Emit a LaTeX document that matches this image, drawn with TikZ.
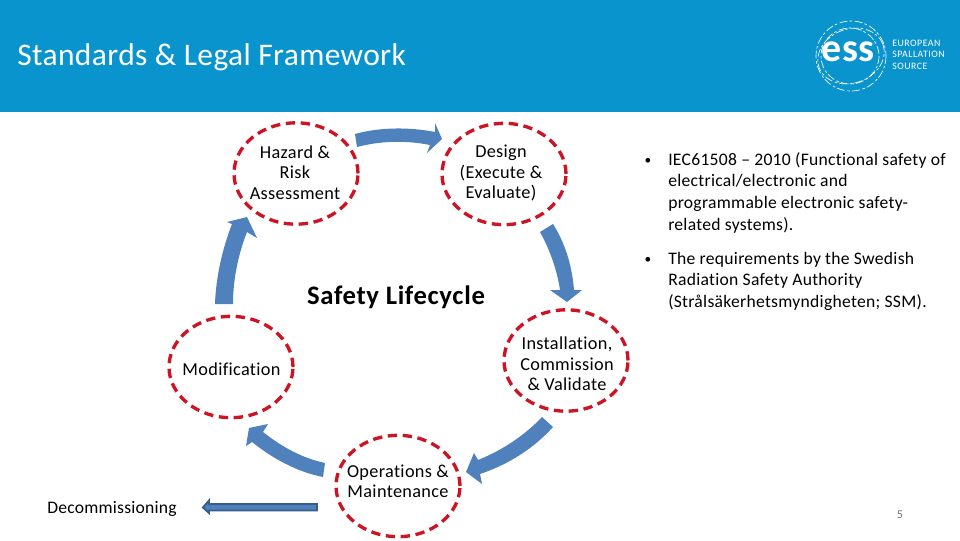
\documentclass[tikz,border=0pt]{standalone}
\usepackage{fontspec}
\setmainfont[Ligatures=NoCommon]{Carlito}
\definecolor{band}{HTML}{0A94CE}
\definecolor{bluefill}{HTML}{4F81BD}
\definecolor{blueline}{HTML}{385D8A}
\definecolor{dashred}{HTML}{CC1424}
\newcommand{\stagefont}{\fontsize{13.7}{15.4}\selectfont\addfontfeature{LetterSpace=1.8}}
\newcommand{\sidefont}{\fontsize{13.2}{15}\selectfont\addfontfeature{LetterSpace=1.6}}
\tikzset{
  x=0.75pt,y=-0.75pt,
  stage/.style={draw=dashred,line width=2.5pt,dash pattern=on 7pt off 4.2pt,ellipse,inner sep=0pt,minimum width=93pt,minimum height=76pt},
  stagetxt/.style={inner sep=0pt,align=center,font=\stagefont},
  sidetxt/.style={anchor=base west,inner sep=0pt,font=\sidefont},
  blockarrow/.style={fill=bluefill,draw=none},
  logoring/.style={draw=white,line width=0.5pt,dash pattern=on 6pt off 1.5pt on 2pt off 2pt},
  logotxt/.style={anchor=west,inner sep=0pt,text=white,font=\fontsize{7.4}{9}\selectfont\addfontfeature{LetterSpace=5}}
}
\usetikzlibrary{shapes.geometric}
\begin{document}
\begin{tikzpicture}
\useasboundingbox (0,0) rectangle (960,540);
\fill[white] (0,0) rectangle (960,540);
\fill[band] (0,0) rectangle (960,112);
\node[anchor=west,inner sep=0pt,text=white,font=\fontsize{23.6}{26}\selectfont\addfontfeature{LetterSpace=1.2}] (title) at (17,57) {Standards \& Legal Framework};
% logo
\draw[logoring] (851,56) ellipse (35 and 35);
\draw[logoring] (850,56) ellipse (29 and 28);
\draw[logoring,rotate around={20:(851,56)}] (851,56) ellipse (34 and 27);
\node[inner sep=0pt,text=white,font=\fontsize{30}{30}\selectfont\bfseries] (ess) at (848,52) {ess};
\node[logotxt] (l1) at (892,43) {EUROPEAN};
\node[logotxt] (l2) at (892,54.5) {SPALLATION};
\node[logotxt] (l3) at (892,66) {SOURCE};
% stages
\node[stage] (haz) at (296,173.5) {};
\node[stage] (des) at (504,174) {};
\node[stage] (ins) at (566,360.5) {};
\node[stage] (mod) at (231,367) {};
\node[stage] (ops) at (398,486) {};
\node[stagetxt] (haztxt) at (295,172.5) {Hazard \&\\Risk\\Assessment};
\node[stagetxt] (destxt) at (501,173) {Design\\(Execute \&\\Evaluate)};
\node[stagetxt] (instxt) at (567,364) {Installation,\\Commission\\\& Validate};
\node[stagetxt] (modtxt) at (231.5,369) {Modification};
\node[stagetxt] (opstxt) at (398,481.5) {Operations \&\\Maintenance};
\node[inner sep=0pt,font=\fontsize{20}{24}\selectfont\bfseries\addfontfeature{LetterSpace=2.5}] (sl) at (396,297) {Safety Lifecycle};
\node[inner sep=0pt,font=\fontsize{13.2}{15}\selectfont\addfontfeature{LetterSpace=1.2}] (dec) at (112,508.5) {Decommissioning};
% block arrows
\fill[blockarrow] (355,134) .. controls (380,127) and (410,127) .. (435,132) -- (435,123) -- (442,139) -- (427,153) -- (430,145) .. controls (405,140) and (380,141) .. (357,147) -- cycle;
\fill[blockarrow] (553,224) .. controls (565,243) and (572,265) .. (574,290) -- (582,290) -- (567,302) -- (550,290) -- (560,290) .. controls (557,270) and (550,250) .. (540,232) -- cycle;
\fill[blockarrow] (542,417) .. controls (525,435) and (503,450) .. (478,460) -- (474,453) -- (466,472) -- (482,484) -- (480,474) .. controls (510,464) and (535,447) .. (553,427) -- cycle;
\fill[blockarrow] (325,463) .. controls (302,458) and (282,447) .. (263,432) -- (268,424) -- (249,428) -- (246,446) -- (252,442) .. controls (272,458) and (297,472) .. (323,477) -- cycle;
\fill[blockarrow] (215,304) .. controls (216,277) and (222,250) .. (232,224) -- (227,222) -- (247,217) -- (257,238) -- (247,232) .. controls (238,255) and (233,280) .. (233,304) -- cycle;
\draw[fill=bluefill,draw=blueline,line width=1.4pt] (317,504) -- (209,504) -- (209,500.5) -- (203,507.5) -- (209,513) -- (209,510.5) -- (317,510.5) -- cycle;
% bullets
\node[inner sep=0pt,font=\fontsize{10}{12}\selectfont] (b1) at (648,161) {•};
\node[sidetxt] (t1) at (668,165) {IEC61508 – 2010 (Functional safety of};
\node[sidetxt] (t2) at (668,186.5) {electrical/electronic and};
\node[sidetxt] (t3) at (668,208) {programmable electronic safety-};
\node[sidetxt] (t4) at (668,230) {related systems).};
\node[inner sep=0pt,font=\fontsize{10}{12}\selectfont] (b2) at (648,260) {•};
\node[sidetxt] (t5) at (668,264) {The requirements by the Swedish};
\node[sidetxt] (t6) at (668,285.5) {Radiation Safety Authority};
\node[sidetxt] (t7) at (668,307) {(Strålsäkerhetsmyndigheten; SSM).};
\node[inner sep=0pt,text=black!55,font=\fontsize{9}{11}\selectfont] (pg) at (900,515) {5};
\end{tikzpicture}
\end{document}
